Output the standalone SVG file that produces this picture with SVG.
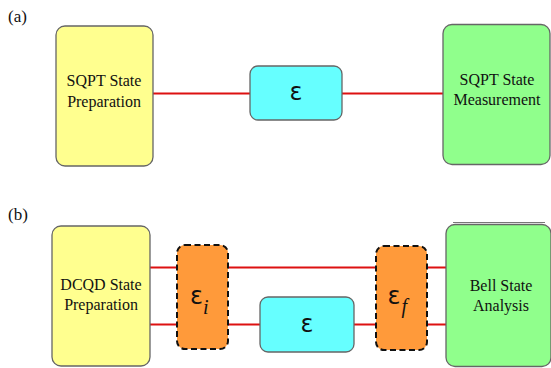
<svg xmlns="http://www.w3.org/2000/svg" width="551" height="368" viewBox="0 0 551 368">
<style>
.lbl{font-family:"Liberation Serif","Times New Roman",serif;font-size:16px;fill:#111;text-anchor:middle}
.tag{font-family:"Liberation Serif","Times New Roman",serif;font-size:17px;fill:#111}
.eps{font-family:"DejaVu Sans","Liberation Sans",sans-serif;font-size:24px;fill:#111}
.sub{font-family:"Liberation Serif","Times New Roman",serif;font-style:italic;font-size:20px;fill:#111}
.box{stroke:#666;stroke-width:1.3}
.yel{fill:#FFFF8F}
.cyn{fill:#66FFFF}
.grn{fill:#90FF8C}
.org{fill:#FF9A3A;stroke:#111;stroke-width:2;stroke-dasharray:6 3.5}
.wire{stroke:#DD1111;stroke-width:2;fill:none}
</style>
<rect width="551" height="368" fill="#fff"/>
<text class="tag" x="8" y="22">(a)</text>
<text class="tag" x="8" y="220">(b)</text>
<g id="connectors">
<line class="wire" x1="153" y1="93.5" x2="250" y2="93.5"/>
<line class="wire" x1="342" y1="93.5" x2="443" y2="93.5"/>
<line class="wire" x1="150" y1="267.5" x2="446" y2="267.5"/>
<line class="wire" x1="150" y1="324.5" x2="446" y2="324.5"/>
</g>
<g id="a-prep">
<rect class="box yel" x="56" y="26" width="97" height="140" rx="9"/>
<text class="lbl" x="104" y="86">SQPT State</text>
<text class="lbl" x="104" y="107">Preparation</text>
</g>
<g id="a-channel">
<rect class="box cyn" x="250" y="66" width="92" height="54" rx="8"/>
<text class="eps" x="296" y="99.5" text-anchor="middle">ε</text>
</g>
<g id="a-meas">
<rect class="box grn" x="443" y="24.5" width="107" height="140" rx="9"/>
<text class="lbl" x="497" y="84.5">SQPT State</text>
<text class="lbl" x="497" y="104.5">Measurement</text>
</g>
<g id="b-prep">
<rect class="box yel" x="52" y="226" width="98" height="140" rx="9"/>
<text class="lbl" x="101" y="290">DCQD State</text>
<text class="lbl" x="101" y="310">Preparation</text>
</g>
<g id="b-eps-i">
<rect class="org" x="177" y="245" width="51" height="104" rx="8"/>
<text x="190" y="304"><tspan class="eps">ε</tspan><tspan class="sub" dx="0" dy="10">i</tspan></text>
</g>
<g id="b-channel">
<rect class="box cyn" x="260" y="297" width="94" height="55" rx="8"/>
<text class="eps" x="307" y="331.5" text-anchor="middle">ε</text>
</g>
<g id="b-eps-f">
<rect class="org" x="376" y="246" width="51" height="104" rx="8"/>
<text x="387.5" y="304"><tspan class="eps">ε</tspan><tspan class="sub" dx="1" dy="9">f</tspan></text>
</g>
<g id="b-bell">
<line x1="453" y1="222.5" x2="545" y2="222.5" stroke="#777" stroke-width="1.2"/>
<rect class="box grn" x="446" y="224.5" width="105" height="142" rx="9"/>
<text class="lbl" x="501" y="290.5">Bell State</text>
<text class="lbl" x="501" y="310.5">Analysis</text>
</g>
</svg>
